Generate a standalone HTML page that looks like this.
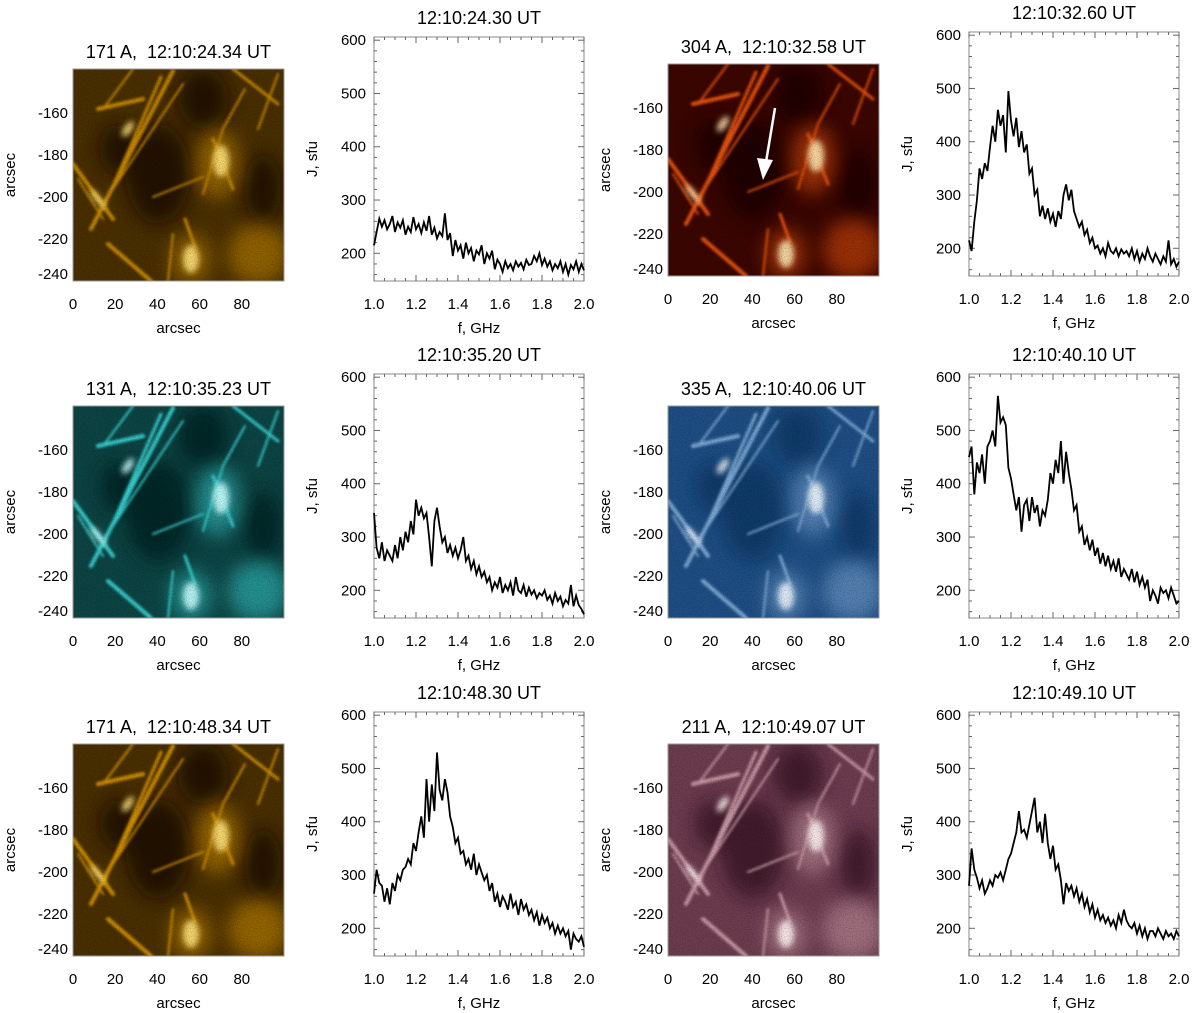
<!DOCTYPE html>
<html><head><meta charset="utf-8">
<style>
html,body{margin:0;padding:0;background:#fff;}
svg{display:block;font-family:"Liberation Sans",sans-serif;}
text{white-space:pre;}
</style></head>
<body>
<svg id="fig" width="1200" height="1013" viewBox="0 0 1200 1013" xmlns="http://www.w3.org/2000/svg">
<defs>
  <filter id="blur3" x="-20%" y="-20%" width="140%" height="140%"><feGaussianBlur stdDeviation="3"/></filter>
  <filter id="blur1" x="-20%" y="-20%" width="140%" height="140%"><feGaussianBlur stdDeviation="1.3"/></filter>
  <filter id="blur8" x="-30%" y="-30%" width="160%" height="160%"><feGaussianBlur stdDeviation="9"/></filter>
  <filter id="noise" x="0" y="0" width="100%" height="100%">
    <feTurbulence type="fractalNoise" baseFrequency="0.9" numOctaves="2" seed="3"/>
    <feColorMatrix type="matrix" values="0 0 0 0 0  0 0 0 0 0  0 0 0 0 0  0 0 0 1.1 -0.45"/>
  </filter>
</defs>
<g id="root"></g>
</svg>
<script>
// ---- spectra data (J, sfu), 81 samples evenly spaced 1.0..2.0 GHz ----
const freqMin = 1.0;
const freqMax = 2.0;
const jMin = 148;
const jMax = 606;
const xTickLabels = ["1.0","1.2","1.4","1.6","1.8","2.0"];
const xTickValues = [1.0,1.2,1.4,1.6,1.8,2.0];
const yTickValues = [200,300,400,500,600];
const imgXTicks = [0,20,40,60,80];
const imgYTicks = [-160,-180,-200,-220,-240];

const spec1 = [215,240,265,250,262,245,255,270,240,258, 248,262,235,250,240,268,245,255,238,258, 242,270,235,248,228,240,232,275,225,238, 195,225,205,215,190,220,200,210,185,205, 198,215,180,200,190,205,170,188,180,165, 185,172,180,168,185,175,182,170,188,178, 180,195,185,200,178,190,175,185,168,180, 172,185,165,180,160,178,170,185,165,180, 168];
const spec2 = [215,195,250,290,350,330,360,345,390,430, 400,460,430,450,380,495,440,410,445,390, 420,380,395,340,350,300,310,260,280,255, 275,250,265,240,270,255,300,320,290,310, 270,255,240,250,225,235,210,220,200,205, 190,200,185,210,195,190,200,185,198,190, 195,185,200,180,195,175,190,180,200,185, 175,190,180,170,185,175,215,170,180,165, 175];
const spec3 = [345,280,260,290,255,275,265,255,285,260, 300,275,310,290,330,305,370,340,355,335, 345,300,245,330,355,320,290,300,270,285, 265,280,260,275,300,255,265,240,255,230, 245,225,235,215,225,200,215,205,225,195, 210,200,215,190,225,200,195,210,188,205, 192,200,185,195,190,200,182,190,175,195, 180,188,170,182,175,210,170,190,172,165, 155];
const spec4 = [450,470,380,440,420,455,400,470,480,500, 470,565,515,525,510,430,410,380,350,375, 310,360,370,330,375,345,360,320,350,340, 370,420,400,445,420,480,400,460,420,390, 350,360,310,320,285,300,275,295,265,280, 250,270,245,265,240,255,235,260,225,240, 230,220,240,215,235,210,225,205,220,180, 200,190,175,205,195,200,185,205,190,175, 180];
const spec5 = [265,310,285,280,250,275,245,285,270,300, 290,310,315,330,320,360,345,380,410,370, 480,400,470,420,530,460,440,480,455,410, 390,360,370,340,345,320,330,310,340,300, 320,305,290,300,270,285,250,265,240,260, 250,235,265,240,250,225,255,235,245,225, 235,215,230,205,225,210,220,200,210,190, 205,190,200,185,195,160,190,180,175,185, 165];
const spec6 = [280,350,310,295,275,290,265,275,290,280, 300,295,305,290,310,330,340,360,380,420, 380,385,370,395,420,445,380,400,360,415, 360,330,355,310,320,290,245,285,270,280, 260,275,250,265,240,255,230,245,220,235, 215,225,210,220,205,215,200,225,210,235, 215,205,200,210,190,205,185,200,180,195, 195,185,200,190,180,195,185,190,180,195, 185];

const specTitles = ["12:10:24.30 UT","12:10:32.60 UT","12:10:35.20 UT","12:10:40.10 UT","12:10:48.30 UT","12:10:49.10 UT"];
const imgTitles = ["171 A,  12:10:24.34 UT","304 A,  12:10:32.58 UT","131 A,  12:10:35.23 UT","335 A,  12:10:40.06 UT","171 A,  12:10:48.34 UT","211 A,  12:10:49.07 UT"];
const series = [spec1,spec2,spec3,spec4,spec5,spec6];

const NS = "http://www.w3.org/2000/svg";
const root = document.getElementById('root');
function mk(tag, attrs, parent){
  const e = document.createElementNS(NS, tag);
  for (const k in attrs) e.setAttribute(k, attrs[k]);
  (parent||root).appendChild(e);
  return e;
}
function txt(str, x, y, size, anchor, parent, rot){
  const t = mk('text', {x:x, y:y, 'font-size':size, 'text-anchor':anchor||'middle', fill:'#000'}, parent);
  if (rot) t.setAttribute('transform', 'rotate(-90 '+x+' '+y+')');
  t.textContent = str;
  return t;
}

const themes = [
  {bg:'#4a3000', dark:'#1c1000', mid:'#c98a00', hi:'#ffe27a'},
  {bg:'#3c0600', dark:'#1a0200', mid:'#e8520c', hi:'#ffe4b0'},
  {bg:'#0d4545', dark:'#042222', mid:'#39cfcf', hi:'#c8ffff'},
  {bg:'#1f4f86', dark:'#113766', mid:'#7eaad6', hi:'#eef6ff'},
  {bg:'#4a3000', dark:'#1c1000', mid:'#d29000', hi:'#ffe27a'},
  {bg:'#6e3d50', dark:'#3a1826', mid:'#c99aa6', hi:'#fff2f2'}
];
const panels = [
  {imgX:73, specX:374, bottom:281, specTop:37},
  {imgX:668, specX:969, bottom:276, specTop:32},
  {imgX:73, specX:374, bottom:618, specTop:374},
  {imgX:668, specX:969, bottom:618, specTop:374},
  {imgX:73, specX:374, bottom:956, specTop:712},
  {imgX:668, specX:969, bottom:956, specTop:712}
];
const IW = 211, SW = 210;

function drawImage(p, i){
  const th = themes[i];
  const top = p.bottom - 212;
  const g = mk('g', {});
  
  
  const cid = 'clip' + i;
  const cp = mk('clipPath', {id:cid}, g);
  mk('rect', {x:0, y:0, width:IW, height:212}, cp);
  const tg = mk('g', {transform:'translate('+p.imgX+','+top+')'}, g);
  const ig = mk('g', {'clip-path':'url(#'+cid+')'}, tg);
  mk('rect', {x:0, y:0, width:IW, height:212, fill:th.bg}, ig);
  const dk = mk('g', {filter:'url(#blur8)', fill:th.dark, opacity:0.85}, ig);
  mk('ellipse', {cx:85, cy:105, rx:32, ry:50}, dk);
  mk('ellipse', {cx:130, cy:30, rx:25, ry:30}, dk);
  mk('ellipse', {cx:45, cy:80, rx:18, ry:25}, dk);
  mk('ellipse', {cx:190, cy:120, rx:18, ry:35}, dk);
  const gl = mk('g', {filter:'url(#blur8)', fill:th.mid, opacity:0.55}, ig);
  mk('ellipse', {cx:145, cy:95, rx:22, ry:35}, gl);
  mk('ellipse', {cx:118, cy:190, rx:20, ry:25}, gl);
  mk('ellipse', {cx:185, cy:185, rx:30, ry:30}, gl);
  const st = mk('g', {filter:'url(#blur1)', stroke:th.mid, 'stroke-linecap':'round', fill:'none'}, ig);
  const lines = [
    [18,160,100,2,4],[30,140,88,8,3],[40,120,110,15,2],[0,95,40,150,4],
    [5,110,30,150,2],[25,40,70,30,4],[80,128,130,108,2],[112,150,122,178,3],
    [35,175,78,212,4],[160,0,205,35,3],[205,5,185,60,2],[140,70,160,120,3],
    [150,60,130,125,2],[60,0,30,40,2],[172,20,150,60,2],[100,165,95,212,2]
  ];
  lines.forEach(l=>{ mk('line', {x1:l[0], y1:l[1], x2:l[2], y2:l[3], 'stroke-width':l[4]}, st); });
  const hi = mk('g', {filter:'url(#blur3)', fill:th.hi, opacity:0.9}, ig);
  mk('ellipse', {cx:118, cy:190, rx:8, ry:14}, hi);
  mk('ellipse', {cx:148, cy:92, rx:8, ry:16}, hi);
  mk('ellipse', {cx:55, cy:60, rx:4, ry:9, transform:'rotate(35 55 60)'}, hi);
  mk('ellipse', {cx:25, cy:130, rx:3, ry:12, transform:'rotate(-40 25 130)'}, hi);
  mk('rect', {x:0, y:0, width:IW, height:212, filter:'url(#noise)', fill:'#000', opacity:0.5}, ig);
  mk('rect', {x:p.imgX, y:top, width:IW, height:212, fill:'none', stroke:'#999', 'stroke-width':1}, g);
  imgXTicks.forEach(v=>{
    const x = p.imgX + v * IW / 100;
    const t = txt(String(v), x, p.bottom+28, 15, 'middle', g);
    
    
  });
  imgYTicks.forEach(v=>{
    let y = p.bottom - (v + 240) * 2.1;
    y = Math.min(y, p.bottom - 7);
    const t = txt(String(v), p.imgX-5, y+5, 15, 'end', g);
    
    
  });
  const xl = txt('arcsec', p.imgX + IW/2, p.bottom+52, 15, 'middle', g);
  
  
  const yl = txt('arcsec', p.imgX - 58, top + 106, 15, 'middle', g, true);
  
  
  const tt = txt(imgTitles[i], p.imgX + IW/2, top - 11, 18, 'middle', g);
  
  
  if (i === 1) {
    const ar = mk('g', {}, g);
    
    
    mk('line', {x1:775, y1:108, x2:766, y2:162, stroke:'#fff', 'stroke-width':2.5}, ar);
    mk('polygon', {points:'757,158 773,160 763,180', fill:'#fff'}, ar);
  }
}

function drawSpectrum(p, i){
  const data = series[i];
  const g = mk('g', {});
  
  
  const x0 = p.specX, y0 = p.specTop, h = p.bottom - p.specTop;
  const sx = f => x0 + (f - freqMin) / (freqMax - freqMin) * SW;
  const sy = v => p.bottom - (v - jMin) / (jMax - jMin) * h;
  mk('rect', {x:x0, y:y0, width:SW, height:h, fill:'#fff', stroke:'#888', 'stroke-width':1}, g);
  for (let k = 0; k <= 20; k++) {
    const f = freqMin + k * 0.05;
    const x = sx(f);
    const L = (k % 4 === 0) ? 6 : 3;
    mk('line', {x1:x, y1:p.bottom, x2:x, y2:p.bottom-L, stroke:'#666', 'stroke-width':1}, g);
    mk('line', {x1:x, y1:y0, x2:x, y2:y0+L, stroke:'#666', 'stroke-width':1}, g);
  }
  for (let v = 160; v <= 600; v += 20) {
    const y = sy(v);
    const L = (v % 100 === 0) ? 6 : 3;
    mk('line', {x1:x0, y1:y, x2:x0+L, y2:y, stroke:'#666', 'stroke-width':1}, g);
    mk('line', {x1:x0+SW, y1:y, x2:x0+SW-L, y2:y, stroke:'#666', 'stroke-width':1}, g);
  }
  xTickValues.forEach((f, k)=>{
    const t = txt(xTickLabels[k], sx(f), p.bottom+28, 15, 'middle', g);
    
    
  });
  yTickValues.forEach(v=>{
    const t = txt(String(v), x0-8, sy(v)+5, 15, 'end', g);
    
    
  });
  const xl = txt('f, GHz', x0 + SW/2, p.bottom+52, 15, 'middle', g);
  
  
  const yl = txt('J, sfu', x0 - 57, y0 + h/2, 15, 'middle', g, true);
  
  
  const tt = txt(specTitles[i], x0 + SW/2, y0 - 13, 18, 'middle', g);
  
  
  const n = data.length;
  const pts = data.map((v, k)=>{
    const f = freqMin + (freqMax - freqMin) * k / (n - 1);
    return sx(f).toFixed(1) + ',' + sy(v).toFixed(1);
  }).join(' ');
  const line = mk('polyline', {points:pts, fill:'none', stroke:'#000', 'stroke-width':1.8, 'stroke-linejoin':'miter'}, g);
  
  
}

panels.forEach((p, i)=>{ drawImage(p, i); drawSpectrum(p, i); });
</script>
</body></html>
